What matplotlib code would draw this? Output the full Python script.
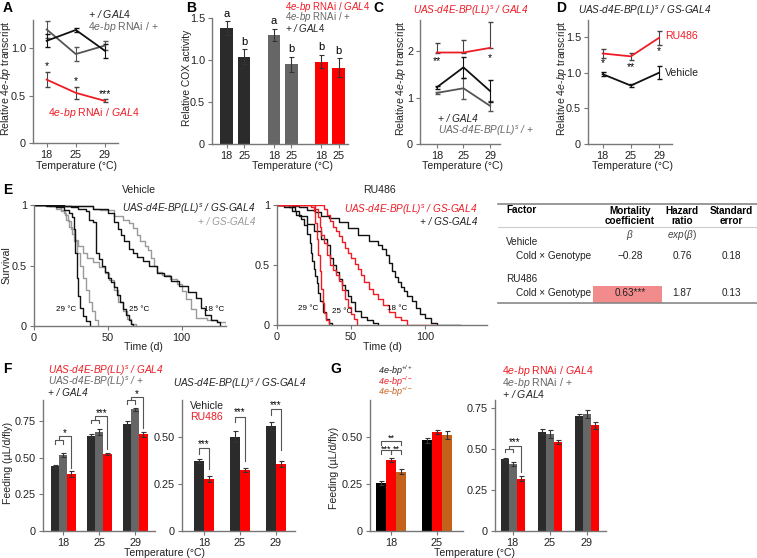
import matplotlib
matplotlib.use('Agg')
import matplotlib.pyplot as plt
from matplotlib.patches import Rectangle

plt.rcParams['font.family'] = ['Liberation Sans', 'DejaVu Sans']
plt.rcParams['mathtext.fontset'] = 'custom'
plt.rcParams['mathtext.rm'] = 'Liberation Sans'
plt.rcParams['mathtext.it'] = 'Liberation Sans:italic'
plt.rcParams['mathtext.bf'] = 'Liberation Sans:bold'

# ---------------- data ----------------
temps = ['18', '25', '29']

# A: relative 4e-bp transcript
a_ctl_gal4 = [1.08, 1.195, 0.975]
a_ctl_gal4_err = [0.07, 0.025, 0.075]
a_rnai_ctl = [1.20, 0.94, 1.03]
a_rnai_ctl_err = [0.09, 0.075, 0.05]
a_rnai_gal4 = [0.67, 0.53, 0.445]
a_rnai_gal4_err = [0.08, 0.06, 0.015]
a_stars = ['*', '*', '***']

# B: COX activity
b_vals = [1.38, 1.04, 1.30, 0.95, 0.98, 0.91]
b_err = [0.08, 0.09, 0.07, 0.09, 0.08, 0.11]
b_letters = ['a', 'b', 'a', 'b', 'b', 'b']
b_ticks = ['18', '25', '18', '25', '18', '25']

# C: overexpression transcript
c_uas_gal4 = [1.97, 1.97, 2.07]
c_uas_gal4_up = [0.2, 0.27, 0.56]
c_ctl_gal4 = [1.22, 1.65, 1.14]
c_ctl_gal4_err = [0.03, 0.22, 0.23]
c_uas_ctl = [1.10, 1.20, 0.82]
c_uas_ctl_err = [0.02, 0.23, 0.10]

# D: GS-GAL4 transcript
d_ru = [1.27, 1.23, 1.49]
d_ru_err = [0.07, 0.05, 0.10]
d_veh = [0.98, 0.82, 1.00]
d_veh_err = [0.03, 0.02, 0.09]

# E: survival curves (day, fraction alive)
veh_uas_29_d = [0, 8, 15, 20, 24, 26, 27, 28, 29, 30, 31, 33, 35, 38]
veh_uas_29_s = [1, .99, .98, .96, .93, .9, .8, .6, .4, .25, .15, .08, .04, 0]
veh_ctl_29_d = [0, 10, 15, 18, 21, 23, 25, 27, 29, 31, 33, 35, 37, 39, 41, 43]
veh_ctl_29_s = [1, .99, .97, .95, .92, .87, .8, .7, .6, .5, .4, .3, .2, .12, .05, 0]
veh_uas_25_d = [0, 15, 25, 30, 35, 37, 40, 42, 44, 46, 48, 50, 52, 54, 56, 58, 60, 62, 64, 66, 67]
veh_uas_25_s = [1, .99, .98, .97, .95, .88, .86, .6, .55, .5, .45, .4, .36, .32, .26, .2, .14, .09, .05, .02, 0]
veh_ctl_25_d = [0, 10, 15, 18, 20, 22, 24, 26, 28, 30, 33, 36, 40, 44, 48, 51, 54, 57, 60, 63, 66, 69]
veh_ctl_25_s = [1, .99, .98, .96, .93, .88, .82, .76, .71, .66, .6, .56, .53, .49, .44, .38, .3, .2, .12, .06, .02, 0]
veh_uas_18_d = [0, 20, 40, 50, 54, 57, 59, 61, 64, 67, 70, 74, 78, 83, 88, 93, 98, 104, 110, 113, 116, 120, 124, 126]
veh_uas_18_s = [1, .99, .97, .93, .86, .8, .75, .7, .64, .6, .57, .54, .5, .44, .41, .37, .33, .28, .23, .15, .09, .05, .03, 0]
veh_ctl_18_d = [0, 20, 40, 45, 54, 60, 64, 67, 70, 72, 75, 77, 79, 81, 83, 87, 92, 97, 100, 103, 106, 110, 117, 124, 130]
veh_ctl_18_s = [1, .99, .97, .96, .91, .88, .85, .81, .75, .7, .66, .63, .56, .5, .45, .42, .39, .35, .29, .22, .14, .07, .05, .03, 0]

ru_ctl_29_d = [0, 5, 10, 13, 16, 18, 20, 22, 23, 24, 25, 26, 27, 28, 29, 31, 33, 35, 37]
ru_ctl_29_s = [1, .98, .95, .92, .88, .83, .76, .68, .6, .53, .47, .41, .35, .27, .2, .11, .05, .02, 0]
ru_uas_29_d = [0, 20, 23, 25, 26, 27, 28, 29, 30, 31, 32, 33, 35]
ru_uas_29_s = [1, 1, .98, .95, .85, .72, .58, .45, .3, .18, .1, .04, 0]
ru_ctl_25_d = [0, 8, 12, 15, 20, 25, 30, 34, 36, 38, 40, 42, 44, 46, 48, 50, 53, 57, 61, 65, 68]
ru_ctl_25_s = [1, .98, .95, .91, .84, .78, .72, .67, .56, .5, .44, .38, .33, .29, .24, .19, .12, .07, .04, .02, 0]
ru_uas_25_d = [0, 22, 26, 28, 29, 30, 32, 34, 36, 38, 40, 42, 44, 46, 48, 50, 52, 54]
ru_uas_25_s = [1, 1, .97, .9, .82, .75, .68, .58, .5, .46, .42, .37, .29, .22, .15, .09, .05, 0]
ru_ctl_18_d = [0, 10, 15, 20, 26, 30, 35, 42, 48, 55, 62, 68, 71, 74, 76, 78, 80, 82, 84, 86, 88, 91, 94, 97, 100, 104, 108, 124]
ru_ctl_18_s = [1, .99, .98, .96, .94, .91, .89, .86, .81, .75, .7, .67, .63, .58, .52, .45, .4, .36, .32, .28, .24, .2, .14, .09, .06, .02, 0, 0]
ru_uas_18_d = [0, 30, 32, 34, 36, 38, 40, 42, 44, 46, 48, 50, 53, 55, 57, 59, 62, 65, 68, 72, 76, 80, 84, 88, 107]
ru_uas_18_s = [1, 1, .97, .92, .87, .82, .78, .74, .69, .64, .6, .56, .51, .47, .42, .36, .3, .26, .22, .17, .11, .07, .04, 0, 0]

# E: Cox table
tab_rows = ['Vehicle', 'RU486']
tab_coef = ['\u22120.28', '0.63***']
tab_hr = ['0.76', '1.87']
tab_se = ['0.18', '0.13']

# F: feeding
f_ctl_gal4 = [0.44, 0.65, 0.73]
f_ctl_gal4_err = [0.008, 0.012, 0.02]
f_uas_ctl = [0.52, 0.675, 0.83]
f_uas_ctl_err = [0.015, 0.02, 0.01]
f_uas_gal4 = [0.39, 0.525, 0.66]
f_uas_gal4_err = [0.02, 0.005, 0.018]
f_veh = [0.37, 0.50, 0.555]
f_veh_err = [0.01, 0.03, 0.02]
f_ru = [0.275, 0.325, 0.355]
f_ru_err = [0.015, 0.01, 0.015]

# G: feeding
g_wt = [0.255, 0.48]
g_wt_err = [0.01, 0.015]
g_ko = [0.375, 0.525]
g_ko_err = [0.01, 0.012]
g_het = [0.315, 0.51]
g_het_err = [0.015, 0.02]
g_ctl_gal4 = [0.44, 0.605, 0.70]
g_ctl_gal4_err = [0.005, 0.015, 0.015]
g_rnai_ctl = [0.41, 0.59, 0.715]
g_rnai_ctl_err = [0.012, 0.025, 0.025]
g_rnai_gal4 = [0.32, 0.545, 0.645]
g_rnai_gal4_err = [0.015, 0.012, 0.02]

# ---------------- styling ----------------
RED = '#ee1c25'
BRED = '#ff0000'
DARK = '#2b2b2b'
GRAY = '#666666'
LGRAY = '#9a9a9a'
BROWN = '#c4621c'
TXT = '#222222'
FS = 7.6
FSI = 7.2  # italic genotype labels

W, H = 757, 558
fig = plt.figure(figsize=(W / 100, H / 100), dpi=100)


def add_ax(l, t, r, b):
    ax = fig.add_axes([l / W, 1 - b / H, (r - l) / W, (b - t) / H])
    for s in ['top', 'right']:
        ax.spines[s].set_visible(False)
    for s in ['left', 'bottom']:
        ax.spines[s].set_color('#777777')
        ax.spines[s].set_linewidth(1)
    ax.tick_params(length=3, width=0.8, color='#777777', labelsize=FS + 0.2, pad=2, labelcolor=TXT)
    return ax


def ftext(x, y, s, **kw):
    kw.setdefault('fontsize', FS)
    kw.setdefault('va', 'center')
    kw.setdefault('color', TXT)
    fig.text(x / W, 1 - y / H, s, **kw)


def bracket(ax, x1, x2, y, l1, l2):
    ax.plot([x1, x1, x2, x2], [l1, y, y, l2], color='#555555', lw=0.8, clip_on=False)


def err_bars(ax, x, y, e, c='#333333'):
    ax.errorbar(x, y, yerr=e, fmt='none', ecolor=c, elinewidth=0.8, capsize=1.8, capthick=0.8)


rnai = r'$\mathit{4e}$-$\mathit{bp}$ RNAi'
uas = r'UAS-d4E-BP(LL)$^s$'

# panel letters
for lab, x, y in [('A', 3, 8), ('B', 186, 8), ('C', 373, 8), ('D', 556, 8),
                  ('E', 3, 190), ('F', 3, 369), ('G', 330, 369)]:
    ftext(x, y, lab, fontsize=10, fontweight='bold', color='black')

# ---------------- A ----------------
ax = add_ax(33, 20, 118, 143)
x = range(3)
ax.errorbar(x, a_rnai_ctl, yerr=a_rnai_ctl_err, color='#555555', lw=1.3, capsize=1.8, elinewidth=0.8)
ax.errorbar(x, a_ctl_gal4, yerr=a_ctl_gal4_err, color='#111111', lw=1.3, capsize=1.8, elinewidth=0.8)
ax.errorbar(x, a_rnai_gal4, yerr=a_rnai_gal4_err, color=RED, lw=1.3, ecolor='#444444', capsize=1.8, elinewidth=0.8)
for i, s in enumerate(a_stars):
    ax.text(i, a_rnai_gal4[i] + a_rnai_gal4_err[i] + 0.06, s, ha='center', va='center', fontsize=7.5)
ax.set_xlim(-0.47, 2.45)
ax.set_ylim(0, 1.3)
ax.set_xticks(list(x), temps)
ax.set_yticks([0, 0.5, 1.0], ['0', '0.5', '1.0'])
ftext(88, 14, r'+ / $GAL4$', style='italic')
ftext(88, 27, rnai + ' / +', color=GRAY)
ftext(48, 113, rnai + r' / $\mathit{GAL4}$', color=RED)
ftext(6, 78, r'Relative $\mathit{4e}$-$\mathit{bp}$ transcript', rotation=90, ha='center')
ftext(77, 166, 'Temperature (\u00b0C)', ha='center')

# ---------------- B ----------------
ax = add_ax(212, 18, 348, 144)
bx = [0, 1, 2.73, 3.73, 5.45, 6.45]
bcol = [DARK, DARK, GRAY, GRAY, BRED, BRED]
ax.bar(bx, b_vals, width=0.73, color=bcol)
err_bars(ax, bx, b_vals, b_err)
for xi, v, e, l in zip(bx, b_vals, b_err, b_letters):
    ax.text(xi, v + e + 0.09, l, ha='center', va='center', fontsize=FS + 0.4, clip_on=False)
ax.set_xlim(-0.85, 6.99)
ax.set_ylim(0, 1.5)
ax.set_xticks(bx, b_ticks)
ax.set_yticks([0, 0.5, 1.0, 1.5], ['0', '0.5', '1.0', '1.5'])
ftext(285, 7, rnai + r' / $\mathit{GAL4}$', color=RED, fontsize=7.0)
ftext(285, 17.5, rnai + ' / +', color=GRAY, fontsize=7.0)
ftext(285, 28, r'+ / $GAL4$', style='italic', fontsize=7.0)
ftext(187, 78, 'Relative COX activity', rotation=90, ha='center', fontsize=7.4)
ftext(292, 166, 'Temperature (\u00b0C)', ha='center')

# ---------------- C ----------------
ax = add_ax(420, 20, 500, 144)
ax.errorbar(x, c_uas_ctl, yerr=c_uas_ctl_err, color='#555555', lw=1.3, capsize=1.8, elinewidth=0.8)
ax.errorbar(x, c_ctl_gal4, yerr=c_ctl_gal4_err, color='#111111', lw=1.3, capsize=1.8, elinewidth=0.8)
ax.errorbar(x, c_uas_gal4, yerr=[[0, 0, 0], c_uas_gal4_up], color=RED, lw=1.3, ecolor='#444444',
            capsize=1.8, elinewidth=0.8)
ax.text(0, 1.78, '**', ha='center', va='center', fontsize=7.5)
ax.text(2, 1.86, '*', ha='center', va='center', fontsize=7.5)
ax.set_xlim(-0.63, 2.37)
ax.set_ylim(0, 2.67)
ax.set_xticks(list(x), temps)
ax.set_yticks([0, 1, 2])
ftext(413, 11, uas + ' / GAL4', style='italic', color=RED, fontsize=FSI)
ftext(438, 119, '+ / GAL4', style='italic', fontsize=FSI)
ftext(438, 131, uas + ' / +', style='italic', color=GRAY, fontsize=FSI)
ftext(401, 78, r'Relative $\mathit{4e}$-$\mathit{bp}$ transcript', rotation=90, ha='center')
ftext(462, 166, 'Temperature (\u00b0C)', ha='center')

# ---------------- D ----------------
ax = add_ax(588, 20, 672, 144)
ax.errorbar(x, d_veh, yerr=d_veh_err, color='#111111', lw=1.3, capsize=1.8, elinewidth=0.8)
ax.errorbar(x, d_ru, yerr=d_ru_err, color=RED, lw=1.3, ecolor='#444444', capsize=1.8, elinewidth=0.8)
for i, s, yy in [(0, '*', 1.13), (1, '**', 1.08), (2, '*', 1.31)]:
    ax.text(i, yy, s, ha='center', va='center', fontsize=7.5)
ax.set_xlim(-0.52, 2.46)
ax.set_ylim(0, 1.74)
ax.set_xticks(list(x), temps)
ax.set_yticks([0, 0.5, 1.0, 1.5], ['0', '0.5', '1.0', '1.5'])
ftext(578, 11, uas + ' / GS-GAL4', style='italic', fontsize=FSI)
ftext(665, 36, 'RU486', color=RED)
ftext(665, 73, 'Vehicle')
ftext(562, 78, r'Relative $\mathit{4e}$-$\mathit{bp}$ transcript', rotation=90, ha='center')
ftext(632, 166, 'Temperature (\u00b0C)', ha='center')

# ---------------- E survival ----------------
ax = add_ax(34, 205, 226, 326)
for d, s, c in [(veh_ctl_29_d, veh_ctl_29_s, LGRAY), (veh_ctl_25_d, veh_ctl_25_s, LGRAY),
                (veh_ctl_18_d, veh_ctl_18_s, LGRAY), (veh_uas_29_d, veh_uas_29_s, '#111111'),
                (veh_uas_25_d, veh_uas_25_s, '#111111'), (veh_uas_18_d, veh_uas_18_s, '#111111')]:
    ax.step(d, s, where='post', color=c, lw=1.0)
ax.set_xlim(0, 130)
ax.set_ylim(0, 1.0)
ax.set_xticks([0, 50, 100])
ax.set_yticks([0, 0.5, 1], ['0', '0.5', '1'])
ax.text(22, 0.14, '29 \u00b0C', fontsize=5.8, ha='center', va='center')
ax.text(71, 0.14, '25 \u00b0C', fontsize=5.8, ha='center', va='center')
ax.text(122, 0.14, '18 \u00b0C', fontsize=5.8, ha='center', va='center')
ftext(139, 190, 'Vehicle', ha='center')
ftext(255, 209, uas + ' / GS-GAL4', style='italic', ha='right', fontsize=FSI)
ftext(255, 222, '+ / GS-GAL4', style='italic', ha='right', color=LGRAY, fontsize=FSI)
ftext(6, 265, 'Survival', rotation=90, ha='center')
ftext(143, 347, 'Time (d)', ha='center')

ax = add_ax(277, 205, 487, 325)
for d, s, c in [(ru_ctl_29_d, ru_ctl_29_s, '#111111'), (ru_ctl_25_d, ru_ctl_25_s, '#111111'),
                (ru_ctl_18_d, ru_ctl_18_s, '#111111'), (ru_uas_29_d, ru_uas_29_s, RED),
                (ru_uas_25_d, ru_uas_25_s, RED), (ru_uas_18_d, ru_uas_18_s, RED)]:
    ax.step(d, s, where='post', color=c, lw=1.0)
ax.set_xlim(0, 142)
ax.set_ylim(0, 1.0)
ax.set_xticks([0, 50, 100])
ax.set_yticks([0, 0.5, 1], ['0', '0.5', '1'])
ax.text(21, 0.14, '29 \u00b0C', fontsize=5.8, ha='center', va='center')
ax.text(44, 0.11, '25 \u00b0C', fontsize=5.8, ha='center', va='center')
ax.text(81, 0.14, '18 \u00b0C', fontsize=5.8, ha='center', va='center')
ftext(379, 190, 'RU486', ha='center')
ftext(477, 210, uas + ' / GS-GAL4', style='italic', ha='right', color=RED, fontsize=FSI)
ftext(477, 222, '+ / GS-GAL4', style='italic', ha='right', fontsize=FSI)
ftext(382, 347, 'Time (d)', ha='center')

# ---------------- E table ----------------
tab = fig.add_axes([490 / W, 1 - 310 / H, 267 / W, 115 / H])
tab.set_xlim(490, 757)
tab.set_ylim(310, 195)
tab.axis('off')
tab.plot([498, 757], [203.5, 203.5], color='#888888', lw=1.2)
tab.plot([498, 757], [227, 227], color='#cccccc', lw=0.8)
tab.plot([498, 757], [302.5, 302.5], color='#888888', lw=1.2)
tab.add_patch(Rectangle((593, 286), 69, 16.5, color='#f28b8b', lw=0))
tfs = 7.2
tab.text(506, 210, 'Factor', fontsize=tfs, fontweight='bold', va='center')
tab.text(630, 215.5, 'Mortality\ncoefficient', fontsize=tfs, fontweight='bold', va='center', ha='center',
         linespacing=1.0)
tab.text(682, 215.5, 'Hazard\nratio', fontsize=tfs, fontweight='bold', va='center', ha='center', linespacing=1.0)
tab.text(731, 215.5, 'Standard\nerror', fontsize=tfs, fontweight='bold', va='center', ha='center', linespacing=1.0)
tab.text(630, 235.5, r'$\beta$', fontsize=tfs, va='center', ha='center', color='#444444')
tab.text(682, 235.5, r'$exp(\beta)$', fontsize=tfs, va='center', ha='center', color='#444444')
for i, ry in enumerate([242, 279.5]):
    tab.text(506, ry, tab_rows[i], fontsize=tfs, va='center', color=TXT)
    tab.text(516, ry + 14, 'Cold \u00d7 Genotype', fontsize=tfs, va='center', color=TXT)
    tab.text(630, ry + 14, tab_coef[i], fontsize=tfs, va='center', ha='center', color=TXT)
    tab.text(682, ry + 14, tab_hr[i], fontsize=tfs, va='center', ha='center', color=TXT)
    tab.text(731, ry + 14, tab_se[i], fontsize=tfs, va='center', ha='center', color=TXT)

# ---------------- F ----------------
ax = add_ax(43, 400, 155, 531)
w = 0.23
gx = [0, 1, 2]
ax.bar([g - w for g in gx], f_ctl_gal4, width=w, color=DARK)
ax.bar(gx, f_uas_ctl, width=w, color=GRAY)
ax.bar([g + w for g in gx], f_uas_gal4, width=w, color=BRED)
err_bars(ax, [g - w for g in gx], f_ctl_gal4, f_ctl_gal4_err)
err_bars(ax, gx, f_uas_ctl, f_uas_ctl_err)
err_bars(ax, [g + w for g in gx], f_uas_gal4, f_uas_gal4_err)
for g, ys, yb, yr, lab in [(0, 0.62, 0.645, 0.43, '*'), (1, 0.76, 0.785, 0.56, '***'), (2, 0.89, 0.915, 0.70, '*')]:
    bracket(ax, g - w, g, ys, ys - 0.025, ys - 0.025)
    bracket(ax, g - w / 2, g + w, yb, ys, yr)
    ax.text(g + w / 4, yb + 0.02, lab, ha='center', va='center', fontsize=7, clip_on=False)
ax.set_xlim(-0.56, 2.55)
ax.set_ylim(0, 0.893)
ax.set_xticks(gx, temps)
ax.set_yticks([0, 0.25, 0.5, 0.75], ['0', '0.25', '0.50', '0.75'])
ftext(48, 371, uas + ' / GAL4', style='italic', color=RED, fontsize=FSI)
ftext(48, 382, uas + ' / +', style='italic', color=GRAY, fontsize=FSI)
ftext(48, 393, '+ / GAL4', style='italic', fontsize=FSI)
ftext(8, 463, 'Feeding (\u00b5L/d/fly)', rotation=90, ha='center')

ax = add_ax(182, 400, 295, 531)
w2 = 0.28
ax.bar([g - w2 / 2 for g in gx], f_veh, width=w2, color=DARK)
ax.bar([g + w2 / 2 for g in gx], f_ru, width=w2, color=BRED)
err_bars(ax, [g - w2 / 2 for g in gx], f_veh, f_veh_err)
err_bars(ax, [g + w2 / 2 for g in gx], f_ru, f_ru_err)
for g, yt, yl, yr in [(0, 0.44, 0.41, 0.33), (1, 0.606, 0.575, 0.37), (2, 0.645, 0.615, 0.43)]:
    bracket(ax, g - w2 / 2, g + w2 / 2, yt, yl, yr)
    ax.text(g, yt + 0.022, '***', ha='center', va='center', fontsize=7, clip_on=False)
ax.set_xlim(-0.61, 2.53)
ax.set_ylim(0, 0.694)
ax.set_xticks(gx, temps)
ax.set_yticks([0, 0.25, 0.5], ['0', '0.25', '0.50'])
ftext(190, 406, 'Vehicle')
ftext(190, 417, 'RU486', color=RED)
ftext(240, 384, uas + ' / GS-GAL4', style='italic', ha='center', fontsize=FSI)
ftext(165, 553, 'Temperature (\u00b0C)', ha='center')

# ---------------- G ----------------
ax = add_ax(370, 400, 463, 531)
w3 = 0.22
gx2 = [0, 1]
ax.bar([g - w3 for g in gx2], g_wt, width=w3, color='black')
ax.bar(gx2, g_ko, width=w3, color=BRED)
ax.bar([g + w3 for g in gx2], g_het, width=w3, color=BROWN)
err_bars(ax, [g - w3 for g in gx2], g_wt, g_wt_err)
err_bars(ax, gx2, g_ko, g_ko_err)
err_bars(ax, [g + w3 for g in gx2], g_het, g_het_err)
bracket(ax, -w3, w3, 0.475, 0.455, 0.455)
ax.text(0, 0.49, '**', ha='center', va='center', fontsize=6.5)
bracket(ax, -w3, -0.01, 0.43, 0.41, 0.41)
bracket(ax, 0.01, w3, 0.43, 0.41, 0.41)
ax.text(-w3 / 2, 0.435, '***', ha='center', va='center', fontsize=6.5)
ax.text(w3 / 2, 0.435, '**', ha='center', va='center', fontsize=6.5)
ax.set_xlim(-0.46, 1.58)
ax.set_ylim(0, 0.694)
ax.set_xticks(gx2, temps[:2])
ax.set_yticks([0, 0.25, 0.5], ['0', '0.25', '0.50'])
ftext(378, 371, r'4e-bp$^{+/+}$', style='italic', fontsize=6.5)
ftext(378, 381.5, r'4e-bp$^{-/-}$', style='italic', color=RED, fontsize=6.5)
ftext(378, 392, r'4e-bp$^{+/-}$', style='italic', color=BROWN, fontsize=6.5)
ftext(334, 468, 'Feeding (\u00b5L/d/fly)', rotation=90, ha='center')

ax = add_ax(495, 400, 606, 531)
ax.bar([g - w3 for g in gx], g_ctl_gal4, width=w3, color=DARK)
ax.bar(gx, g_rnai_ctl, width=w3, color=GRAY)
ax.bar([g + w3 for g in gx], g_rnai_gal4, width=w3, color=BRED)
err_bars(ax, [g - w3 for g in gx], g_ctl_gal4, g_ctl_gal4_err)
err_bars(ax, gx, g_rnai_ctl, g_rnai_ctl_err)
err_bars(ax, [g + w3 for g in gx], g_rnai_gal4, g_rnai_gal4_err)
bracket(ax, -w3, 0, 0.50, 0.48, 0.48)
bracket(ax, -w3 / 2, w3, 0.52, 0.50, 0.36)
ax.text(w3 / 4, 0.545, '***', ha='center', va='center', fontsize=7)
ax.set_xlim(-0.48, 2.52)
ax.set_ylim(0, 0.8)
ax.set_xticks(gx, temps)
ax.set_yticks([0, 0.25, 0.5, 0.75], ['0', '0.25', '0.50', '0.75'])
ftext(502, 371, rnai + r' / $\mathit{GAL4}$', color=RED)
ftext(502, 383, rnai + ' / +', color=GRAY)
ftext(502, 394, r'+ / $GAL4$', style='italic')
ftext(475, 553, 'Temperature (\u00b0C)', ha='center')

fig.savefig('out.png', dpi=100)
